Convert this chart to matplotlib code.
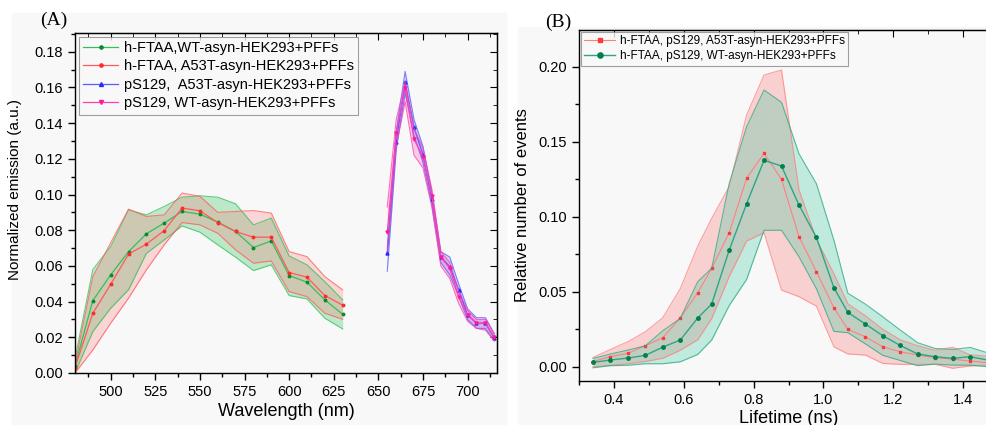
import numpy as np
import matplotlib
matplotlib.use("Agg")
from matplotlib import pyplot as plt
from matplotlib.ticker import MultipleLocator, FormatStrFormatter
from matplotlib.patches import Rectangle

plt.rcParams['font.family'] = ['Liberation Sans', 'DejaVu Sans']

# ---- panel A: emission spectra ----
wl_ftaa = [480, 490, 500, 510, 520, 530, 540, 550, 560, 570, 580, 590, 600, 610, 620, 630]
wt_ftaa = [0.004, 0.0406, 0.055, 0.068, 0.078, 0.084, 0.0905, 0.089, 0.0845, 0.0793, 0.0703, 0.074, 0.0546, 0.0509, 0.041, 0.0329]
wt_ftaa_hi = [0.008, 0.058, 0.0708, 0.0914, 0.0886, 0.0933, 0.0985, 0.0993, 0.0985, 0.0948, 0.083, 0.0868, 0.0656, 0.0606, 0.0512, 0.041]
wt_ftaa_lo = [0.0, 0.0232, 0.0363, 0.0466, 0.067, 0.0746, 0.0824, 0.0789, 0.0718, 0.0649, 0.0574, 0.0606, 0.0434, 0.0415, 0.0307, 0.0247]
a53t_ftaa = [0.003, 0.0335, 0.0497, 0.0666, 0.0722, 0.0798, 0.0924, 0.0909, 0.0843, 0.0793, 0.0761, 0.0761, 0.0563, 0.0537, 0.0434, 0.038]
a53t_ftaa_hi = [0.005, 0.054, 0.073, 0.0918, 0.0877, 0.0886, 0.1008, 0.099, 0.090, 0.0905, 0.091, 0.0896, 0.068, 0.0652, 0.054, 0.0466]
a53t_ftaa_lo = [0.0, 0.0129, 0.0279, 0.0419, 0.0578, 0.0718, 0.0843, 0.083, 0.0783, 0.069, 0.0615, 0.0628, 0.0456, 0.0428, 0.0335, 0.0301]

wl_ps = [655, 660, 665, 670, 675, 680, 685, 690, 695, 700, 705, 710, 715]
a53t_ps = [0.0671, 0.1297, 0.1628, 0.1376, 0.1223, 0.0974, 0.0651, 0.0596, 0.0466, 0.0325, 0.028, 0.0279, 0.0196]
a53t_ps_hi = [0.070, 0.135, 0.169, 0.142, 0.127, 0.101, 0.068, 0.065, 0.050, 0.036, 0.031, 0.031, 0.022]
a53t_ps_lo = [0.057, 0.125, 0.157, 0.133, 0.118, 0.094, 0.062, 0.055, 0.043, 0.030, 0.025, 0.025, 0.018]
wt_ps = [0.0789, 0.1344, 0.1597, 0.131, 0.121, 0.099, 0.0649, 0.0587, 0.0428, 0.0325, 0.0279, 0.0279, 0.020]
wt_ps_hi = [0.093, 0.142, 0.163, 0.137, 0.126, 0.103, 0.068, 0.062, 0.046, 0.035, 0.030, 0.030, 0.022]
wt_ps_lo = [0.068, 0.127, 0.152, 0.122, 0.115, 0.093, 0.060, 0.053, 0.039, 0.029, 0.025, 0.024, 0.018]

# ---- panel B: lifetime histograms ----
lifetime = [0.34, 0.39, 0.44, 0.49, 0.54, 0.59, 0.64, 0.68, 0.73, 0.78, 0.83, 0.88,
            0.93, 0.98, 1.03, 1.07, 1.12, 1.17, 1.22, 1.27, 1.32, 1.37, 1.42, 1.47]
b_a53t = [0.0035, 0.0067, 0.0089, 0.014, 0.0193, 0.0327, 0.0493, 0.0656, 0.0893, 0.1256, 0.1423, 0.1249,
          0.0867, 0.0633, 0.0393, 0.0249, 0.020, 0.0133, 0.010, 0.0078, 0.006, 0.0051, 0.0038, 0.0027]
b_a53t_hi = [0.0062, 0.0115, 0.0167, 0.0233, 0.0327, 0.052, 0.0804, 0.0989, 0.120, 0.1678, 0.1945, 0.1978,
             0.118, 0.085, 0.062, 0.042, 0.034, 0.025, 0.018, 0.014, 0.011, 0.013, 0.008, 0.007]
b_a53t_lo = [0.0, 0.001, 0.002, 0.0035, 0.0056, 0.011, 0.018, 0.032, 0.060, 0.0838, 0.0893, 0.0511,
             0.0467, 0.0404, 0.0133, 0.0085, 0.0078, 0.0022, 0.0016, 0.0016, 0.0016, -0.001, 0.0005, 0.0011]
b_wt = [0.0029, 0.0045, 0.0058, 0.0076, 0.0131, 0.0178, 0.0325, 0.0418, 0.0776, 0.1087, 0.1376, 0.1338,
        0.1078, 0.0862, 0.0527, 0.0362, 0.0285, 0.0207, 0.0142, 0.0085, 0.0067, 0.0056, 0.0067, 0.0045]
b_wt_hi = [0.0055, 0.0085, 0.0111, 0.014, 0.024, 0.0322, 0.0567, 0.0656, 0.122, 0.160, 0.1845, 0.1763,
           0.142, 0.122, 0.0844, 0.049, 0.0418, 0.0333, 0.0245, 0.016, 0.0122, 0.0115, 0.0129, 0.0093]
b_wt_lo = [-0.0007, 0.0007, 0.001, 0.002, 0.002, 0.0033, 0.0082, 0.0178, 0.0407, 0.0582, 0.091, 0.091,
           0.0733, 0.052, 0.0236, 0.0227, 0.0153, 0.0076, 0.0042, 0.0007, 0.0018, 0.0011, 0.0011, 0.0]

W, H = 987, 425
fig = plt.figure(figsize=(W / 100, H / 100), dpi=100, facecolor='white')

bg = '#f8f8f8'
fig.patches.append(Rectangle((12 / W, 0), 494 / W, (H - 13) / H, transform=fig.transFigure,
                             color=bg, zorder=-10))
fig.patches.append(Rectangle((518 / W, 0), 469 / W, (H - 27) / H, transform=fig.transFigure,
                             color=bg, zorder=-10))


def band(ax, x, mean, lo, hi, line_c, fill_c, mk_c, marker, ms, label, alpha=0.25, mlw=0.9):
    ax.fill_between(x, lo, hi, color=fill_c, alpha=alpha, lw=0)
    ax.plot(x, lo, color=line_c, lw=0.8, alpha=0.75)
    ax.plot(x, hi, color=line_c, lw=0.8, alpha=0.75)
    ax.plot(x, mean, color=line_c, lw=mlw, marker=marker, ms=ms,
            mfc=mk_c, mec=mk_c, label=label)


def style_axes(ax):
    ax.set_facecolor(bg)
    ax.tick_params(which='both', direction='out', labelsize=10.5, width=1)
    ax.tick_params(which='major', length=5)
    ax.tick_params(which='minor', length=3)
    for s in ax.spines.values():
        s.set_linewidth(1.0)


# panel A
axA = fig.add_axes([75 / W, 52 / H, 422 / W, 340 / H])
style_axes(axA)
band(axA, wl_ftaa, wt_ftaa, wt_ftaa_lo, wt_ftaa_hi, '#33c05a', '#33c05a', '#0a8a30', 'o', 1.8,
     'h-FTAA,WT-asyn-HEK293+PFFs', alpha=0.3)
band(axA, wl_ftaa, a53t_ftaa, a53t_ftaa_lo, a53t_ftaa_hi, '#ff5a5a', '#ff6f6f', '#ff2a2a', 'o', 1.8,
     'h-FTAA, A53T-asyn-HEK293+PFFs', alpha=0.25)
band(axA, wl_ps, a53t_ps, a53t_ps_lo, a53t_ps_hi, '#5a5aff', '#7a7aff', '#2a2aff', '^', 2.2,
     'pS129,  A53T-asyn-HEK293+PFFs', alpha=0.3)
band(axA, wl_ps, wt_ps, wt_ps_lo, wt_ps_hi, '#ff3fb0', '#ff5fc0', '#ff1a99', 'v', 2.2,
     'pS129, WT-asyn-HEK293+PFFs', alpha=0.3)
axA.set_xlim(480, 716.5)
axA.set_ylim(0, 0.1905)
axA.xaxis.set_minor_locator(MultipleLocator(12.5))
axA.yaxis.set_major_locator(MultipleLocator(0.02))
axA.yaxis.set_minor_locator(MultipleLocator(0.01))
axA.yaxis.set_major_formatter(FormatStrFormatter('%.2f'))
axA.set_xticks([500, 525, 550, 575, 600, 625, 650, 675, 700])
axA.set_xlabel('Wavelength (nm)', fontsize=13, labelpad=3)
axA.set_ylabel('Normalized emission (a.u.)', fontsize=11, labelpad=5)
axA.yaxis.set_label_coords(-0.125, 0.54)
# mirrored ticks on top/right pointing inward
secx = axA.secondary_xaxis('top')
secx.set_xticks([500, 525, 550, 575, 600, 625, 650, 675, 700])
secx.xaxis.set_minor_locator(MultipleLocator(12.5))
secx.tick_params(which='both', direction='in', labeltop=False)
secx.tick_params(which='major', length=5)
secx.tick_params(which='minor', length=3)
secy = axA.secondary_yaxis('right')
secy.yaxis.set_major_locator(MultipleLocator(0.02))
secy.yaxis.set_minor_locator(MultipleLocator(0.01))
secy.tick_params(which='both', direction='in', labelright=False)
secy.tick_params(which='major', length=5)
secy.tick_params(which='minor', length=3)
leg = axA.legend(loc='upper left', fontsize=10.5, frameon=True, fancybox=False, numpoints=1,
                 handlelength=2.4, borderpad=0.3, labelspacing=0.3, handletextpad=0.4,
                 borderaxespad=0.25, markerscale=1.3)
leg.get_frame().set_edgecolor('#888888')
leg.get_frame().set_linewidth(0.8)
leg.get_frame().set_facecolor(bg)
fig.text(40 / W, 1 - 20 / H, '(A)', family=['Liberation Serif', 'DejaVu Serif'], fontsize=14,
         va='center', ha='left')

# panel B
axB = fig.add_axes([579 / W, 44 / H, 419 / W, 351 / H])
style_axes(axB)
axB.spines['right'].set_visible(False)
band(axB, lifetime, b_a53t, b_a53t_lo, b_a53t_hi, '#ff8080', '#ff6b6b', '#ff3838', 's', 2,
     'h-FTAA, pS129, A53T-asyn-HEK293+PFFs', alpha=0.28, mlw=0.8)
band(axB, lifetime, b_wt, b_wt_lo, b_wt_hi, '#2aa883', '#3fcca3', '#00804a', 'o', 2.5,
     'h-FTAA, pS129, WT-asyn-HEK293+PFFs', alpha=0.3, mlw=1.0)
axB.set_xlim(0.3, 1.5)
axB.set_ylim(-0.0095, 0.2245)
axB.xaxis.set_major_locator(MultipleLocator(0.2))
axB.xaxis.set_minor_locator(MultipleLocator(0.1))
axB.yaxis.set_major_locator(MultipleLocator(0.05))
axB.yaxis.set_minor_locator(MultipleLocator(0.025))
axB.xaxis.set_major_formatter(FormatStrFormatter('%.1f'))
axB.yaxis.set_major_formatter(FormatStrFormatter('%.2f'))
axB.set_xlabel('Lifetime (ns)', fontsize=13, labelpad=2)
axB.set_ylabel('Relative number of events', fontsize=12, labelpad=6)
secxB = axB.secondary_xaxis('top')
secxB.xaxis.set_major_locator(MultipleLocator(0.2))
secxB.xaxis.set_minor_locator(MultipleLocator(0.1))
secxB.tick_params(which='both', direction='in', labeltop=False)
secxB.tick_params(which='major', length=5)
secxB.tick_params(which='minor', length=3)
legB = axB.legend(loc='upper left', fontsize=8.5, frameon=True, fancybox=False, numpoints=1,
                  handlelength=2.6, borderpad=0.3, labelspacing=0.25, handletextpad=0.4,
                  borderaxespad=0.15, markerscale=1.5)
legB.get_frame().set_edgecolor('#888888')
legB.get_frame().set_linewidth(0.8)
legB.get_frame().set_facecolor(bg)
fig.text(545 / W, 1 - 22 / H, '(B)', family=['Liberation Serif', 'DejaVu Serif'], fontsize=14,
         va='center', ha='left')

fig.savefig('out.png', dpi=100, facecolor='white')
